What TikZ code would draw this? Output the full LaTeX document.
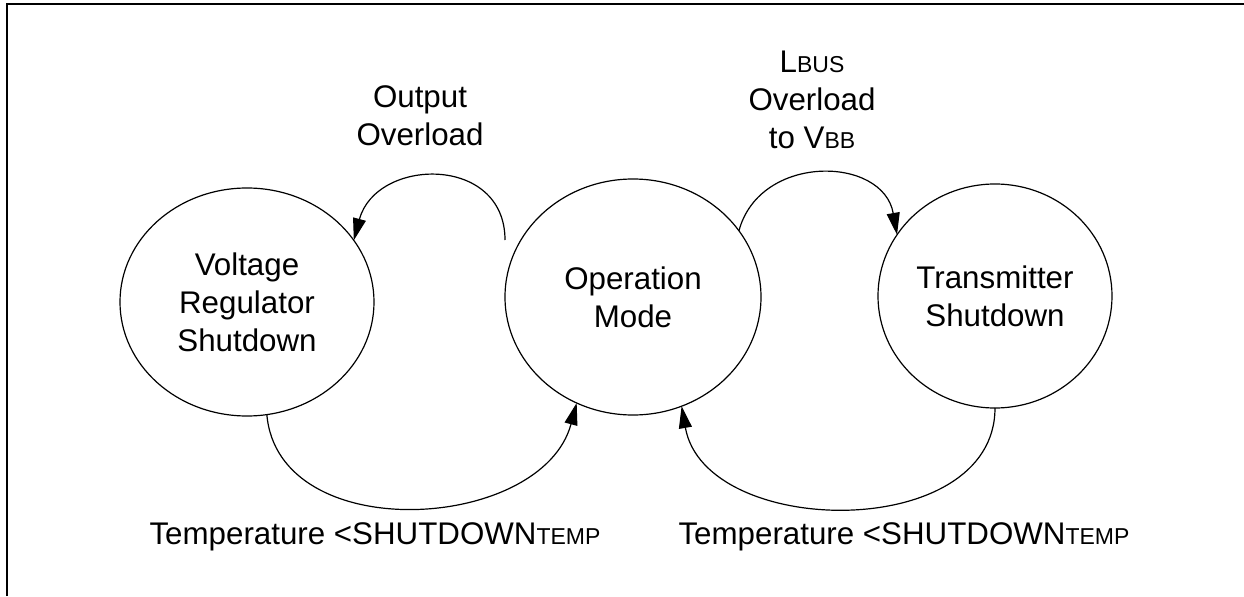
\documentclass[tikz,border=0pt]{standalone}
\usepackage{fontspec}
\setmainfont{Liberation Sans}
\usetikzlibrary{shapes.geometric,arrows.meta}
\newcommand{\smc}[1]{{\fontsize{11.5pt}{19pt}\selectfont #1}}
\begin{document}
\begin{tikzpicture}[>={Triangle[length=11pt,width=6.5pt]},x=0.5pt,y=0.5pt,line width=0.6pt,
	mode/.style={draw,ellipse,inner sep=0pt,outer sep=0pt,align=center,font=\fontsize{15.65pt}{19pt}\selectfont},
	txt/.style={inner sep=0pt,align=center,font=\fontsize{15.65pt}{19pt}\selectfont}]
	\useasboundingbox (0,0) rectangle (1244,596);
	\draw[line width=1pt] (7,0)--(7,592)--(1244,592);
	\node[mode,minimum width=127pt,minimum height=114pt] (vreg) at (247,294) {Voltage\\Regulator\\Shutdown};
	\node[mode,minimum width=128pt,minimum height=118pt] (opm) at (633,299) {Operation\\Mode};
	\node[mode,minimum width=117pt,minimum height=112pt] (tsd) at (995,300) {Transmitter\\Shutdown};
	\node[txt,anchor=north] (ovl) at (420,511) {Output\\Overload};
	\node[txt,anchor=north] (lbus) at (812,546) {L\smc{BUS}\\Overload\\to V\smc{BB}};
	\node[txt,anchor=base] (tmpl) at (375,52) {Temperature <SHUTDOWN\smc{TEMP}};
	\node[txt,anchor=base] (tmpr) at (904,52) {Temperature <SHUTDOWN\smc{TEMP}};
	\coordinate (ovstart) at (505,356);
	\draw[->] (ovstart) to[out=90,in=75,looseness=1.45] (vreg.30);
	\draw[->] (opm.32) to[out=75,in=100,looseness=1.3] (tsd.148);
	\draw[->] (vreg.-80) to[out=-85,in=-105,looseness=1.1] (opm.-118);
	\draw[->] (tsd.-90) to[out=-90,in=-80,looseness=1.1] (opm.-66);
\end{tikzpicture}
\end{document}
